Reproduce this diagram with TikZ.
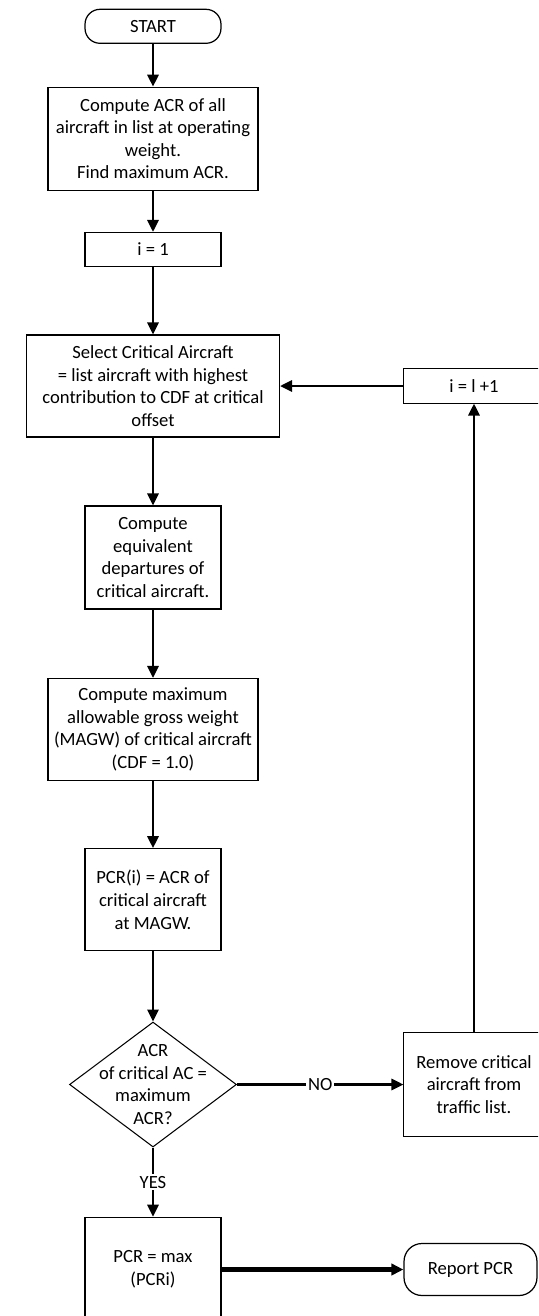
\documentclass[tikz,border=0pt]{standalone}
\usepackage{fontspec}
\setmainfont{Carlito}
\usetikzlibrary{positioning, arrows.meta, shapes.geometric}

\begin{document}
\begin{tikzpicture}[
    x=0.02cm, y=-0.02cm,
    every node/.style={font=\fontsize{10.6}{12.85}\selectfont},
    block/.style={draw, line width=0.7pt, align=center, inner sep=1pt},
    openbox/.style={block, draw=none},
    term/.style={block, rounded corners=0.3cm},
    decision/.style={diamond, draw, line width=0.6pt, inner sep=0pt},
    conn/.style={->, line width=1.35pt},
    tag/.style={fill=white, inner sep=1pt},
    >={Triangle[length=6.8pt, width=6.4pt]},
  ]
  \useasboundingbox (0,0) rectangle (538,1316);
  \clip (0,0) rectangle (538,1316);

  % main column
  \node[term, minimum width=2.72cm, minimum height=0.68cm] (start) at (153, 26.3) {START};
  \node[block, minimum width=4.2cm, minimum height=2.06cm] (acr) at (153, 138.7)
    {Compute ACR of all\\aircraft in list at operating\\weight.\\Find maximum ACR.};
  \node[block, minimum width=2.72cm, minimum height=0.68cm] (init) at (153, 249.5) {i = 1};
  \node[block, minimum width=5.06cm, minimum height=2.04cm] (select) at (153, 386)
    {Select Critical Aircraft\\= list aircraft with highest\\contribution to CDF at critical\\offset};
  \node[block, minimum width=2.72cm, minimum height=2.06cm] (equiv) at (153, 557.5)
    {Compute\\equivalent\\departures of\\critical aircraft.};
  \node[block, minimum width=4.2cm, minimum height=2.04cm] (magw) at (153, 729.5)
    {Compute maximum\\allowable gross weight\\(MAGW) of critical aircraft\\(CDF = 1.0)};
  \node[block, minimum width=2.72cm, minimum height=2.04cm] (pcri) at (153, 899.7)
    {PCR(i) = ACR of\\critical aircraft\\at MAGW.};
  \node[decision, minimum width=3.34cm, minimum height=2.5cm,
        label={[align=center]center:ACR\\of critical AC =\\maximum\\ACR?}] (check) at (153, 1084.5) {};
  \node[block, minimum width=2.72cm, minimum height=2.09cm] (pcrmax) at (153, 1269.5)
    {PCR = max\\(PCRi)};

  % right column (boxes run off the right edge)
  \node[openbox, minimum width=2.8cm, minimum height=0.68cm] (incr) at (474, 386) {i = l +1};
  \node[openbox, minimum width=2.8cm, minimum height=2.06cm] (remove) at (474, 1084.5)
    {Remove critical\\aircraft from\\traffic list.};
  \foreach \b in {incr, remove}
    \draw[line width=0.7pt] ([xshift=10pt]\b.north east) -- (\b.north west)
      -- (\b.south west) -- ([xshift=10pt]\b.south east);
  \node[term, minimum width=2.66cm, minimum height=1.04cm, rounded corners=0.36cm]
    (report) at (470.5, 1269.5) {Report PCR};

  % connectors
  \draw[conn] (start) -- (acr);
  \draw[conn] (acr) -- (init);
  \draw[conn] (init) -- (select);
  \draw[conn] (select) -- (equiv);
  \draw[conn] (equiv) -- (magw);
  \draw[conn] (magw) -- (pcri);
  \draw[conn] (pcri) -- (check);
  \draw[conn] (check) -- node[tag] (no) {NO} (remove);
  \draw[conn] (remove) -- (incr);
  \draw[conn] (incr) -- (select);
  \draw[conn] (check) -- node[tag] (yes) {YES} (pcrmax);
  \draw[conn, line width=2.3pt] (pcrmax) -- (report);
\end{tikzpicture}
\end{document}
